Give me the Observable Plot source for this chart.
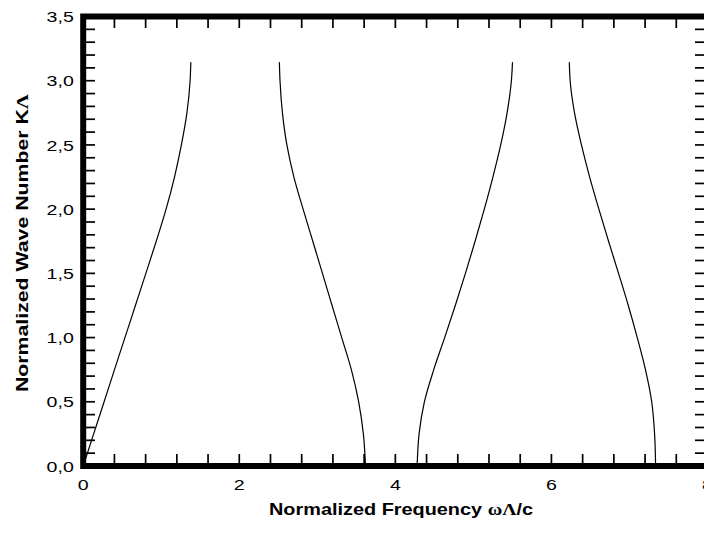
<!DOCTYPE html>
<html><head><meta charset="utf-8">
<script src="https://cdn.jsdelivr.net/npm/d3@7"></script>
<script src="https://cdn.jsdelivr.net/npm/@observablehq/plot@0.6"></script>
<style>html,body{margin:0;padding:0;overflow:hidden;background:#fff}</style>
</head><body><div id="chart"></div>
<script>
// Band data: wave number K (y) and normalized frequency (x)
const bandK     = [0, 0.25, 0.5, 0.75, 1.0, 1.25, 1.5, 1.75, 2.0, 2.25, 2.5, 2.75, 3.0, 3.142];
const band1Freq = [0, 0.134, 0.268, 0.401, 0.535, 0.669, 0.803, 0.936, 1.062, 1.170, 1.258, 1.329, 1.370, 1.379];
const band2Freq = [3.618, 3.590, 3.530, 3.436, 3.313, 3.189, 3.066, 2.942, 2.818, 2.700, 2.610, 2.553, 2.522, 2.514];
const band3Freq = [4.279, 4.304, 4.372, 4.492, 4.632, 4.768, 4.898, 5.022, 5.140, 5.250, 5.350, 5.432, 5.487, 5.501];
const band4Freq = [7.335, 7.322, 7.285, 7.205, 7.100, 6.985, 6.860, 6.732, 6.608, 6.490, 6.385, 6.296, 6.240, 6.229];

const xMinorTicks = d3.range(1, 20).map(i => +(i * 0.4).toFixed(1));
const yMinorTicks = d3.range(1, 35).map(i => i / 10);
const xTickLabels = [0, 2, 4, 6, 8];
const yTickLabels = [0, 0.5, 1, 1.5, 2, 2.5, 3, 3.5];
const xTitleParts = ["Normalized Frequency ", "ωΛ", "/c"];
const yTitleParts = ["Normalized Wave Number K", "Λ"];

const bands = [band1Freq, band2Freq, band3Freq, band4Freq];
const rows = bands.flatMap((freq, i) => freq.map((f, j) => ({band: i + 1, freq: f, k: bandK[j]})));

const W = 704, H = 537, mL = 82.7, mR = -3, mT = 16, mB = 71.5;
const plotH = H - mT - mB, plotW = W - mL - mR;
const FONT = "'Liberation Sans', Arial, Helvetica, sans-serif";

const chart = Plot.plot({
  width: W, height: H,
  marginLeft: mL, marginRight: mR, marginTop: mT, marginBottom: mB,
  style: {fontFamily: FONT, fontSize: "14.5px", color: "black", background: "white"},
  x: {domain: [0, 8], ticks: xTickLabels, tickSize: 0, tickPadding: 14, tickFormat: d => String(d), label: null},
  y: {domain: [0, 3.5], ticks: yTickLabels, tickSize: 0, tickPadding: 9.4, tickFormat: d => d.toFixed(1).replace(".", ","), label: null},
  marks: [
    Plot.tickX(xMinorTicks, {x: d => d, insetTop: plotH - 11.5, strokeWidth: 1.7, stroke: "black"}),
    Plot.tickX(xMinorTicks, {x: d => d, insetBottom: plotH - 12, strokeWidth: 1.7, stroke: "black"}),
    Plot.tickY(yMinorTicks, {y: d => d, insetRight: plotW - 12.3, strokeWidth: 1.7, stroke: "black"}),
    Plot.tickY(yMinorTicks, {y: d => d, insetLeft: plotW - 12, strokeWidth: 1.7, stroke: "black"}),
    Plot.line(rows, {x: "freq", y: "k", z: "band", curve: "monotone-y", stroke: "black", strokeWidth: 1.2}),
    Plot.frame({stroke: "black", strokeWidth: 6})
  ]
});

const svg = d3.select(chart);
// widen tick label glyphs like the reference font
svg.selectAll("text").each(function () {
  const t = this.getAttribute("transform") || "";
  this.setAttribute("transform", t + " scale(1.35,1)");
});
svg.selectAll('g[aria-label="y-axis tick label"]').attr("transform", function () {
  return (this.getAttribute("transform") || "") + " translate(0,1)";
});

const xt = svg.append("text")
  .attr("x", 269).attr("y", 515).attr("text-anchor", "start")
  .attr("textLength", 264).attr("lengthAdjust", "spacingAndGlyphs")
  .attr("font-family", FONT).attr("font-weight", "bold").attr("font-size", 16.5).attr("fill", "black");
xt.append("tspan").text(xTitleParts[0]);
xt.append("tspan").attr("font-family", "'Liberation Serif', 'DejaVu Serif', serif").text(xTitleParts[1]);
xt.append("tspan").text(xTitleParts[2]);

const yt = svg.append("text")
  .attr("transform", "translate(27.5,392) rotate(-90)").attr("text-anchor", "start")
  .attr("textLength", 298).attr("lengthAdjust", "spacingAndGlyphs")
  .attr("font-family", FONT).attr("font-weight", "bold").attr("font-size", 16.5).attr("fill", "black");
yt.append("tspan").text(yTitleParts[0]);
yt.append("tspan").attr("font-family", "'Liberation Serif', 'DejaVu Serif', serif").text(yTitleParts[1]);

document.getElementById("chart").appendChild(chart);
</script>
</body></html>
